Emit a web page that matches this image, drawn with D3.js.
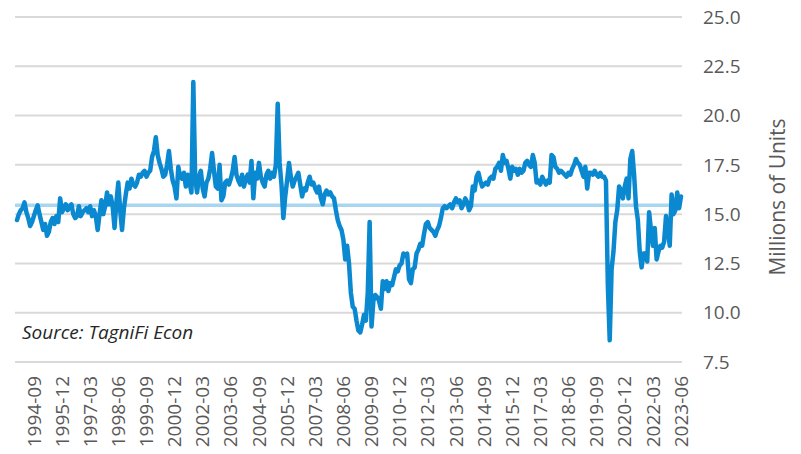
<!DOCTYPE html>
<html>
  <head>
    <meta charset="utf-8">
    <script src="https://cdn.jsdelivr.net/npm/d3@7"></script>
    <style type="text/css">
      body { margin: 0; background: #ffffff; }
      text { font-family: "Open Sans", "Liberation Sans", sans-serif; }
    </style>
  </head>
  <body>
    <script type="text/javascript">
      // First month of the series, monthly steps after that
      var firstMonth = "1993-12";

      // Light vehicle sales, millions of units
      var sales = [
        14.7,
        15.0, 15.2, 15.3, 15.6, 15.1, 14.8, 14.4, 14.6, 14.9, 15.2, 15.45, 15.0, // 1994
        14.6, 14.2, 14.5, 13.9, 14.1, 14.6, 14.8, 14.5, 14.9, 14.6, 15.8, 15.1,  // 1995
        15.3, 15.5, 15.2, 15.4, 15.5, 15.0, 14.8, 14.9, 15.4, 14.9, 15.1, 15.2,  // 1996
        15.3, 15.1, 15.4, 14.9, 15.2, 14.9, 14.2, 15.0, 15.7, 15.0, 15.4, 16.1,  // 1997
        15.5, 15.9, 15.4, 14.3, 15.6, 16.6, 15.2, 14.2, 15.3, 16.0, 16.6, 16.3,  // 1998
        16.8, 16.5, 16.4, 16.6, 17.0, 16.9, 17.1, 17.2, 16.9, 17.1, 17.2, 17.9,  // 1999
        18.2, 18.9, 18.0, 17.6, 17.3, 16.9, 17.0, 17.5, 18.2, 17.3, 16.7, 16.4,  // 2000
        15.8, 17.4, 16.9, 16.8, 17.1, 16.4, 17.0, 16.6, 16.1, 21.7, 16.8, 16.1,  // 2001
        16.9, 17.2, 16.3, 15.9, 16.6, 16.8, 17.3, 18.1, 17.2, 16.4, 16.3, 17.5,  // 2002
        15.7, 15.9, 16.6, 16.7, 16.5, 16.8, 17.2, 17.9, 17.0, 16.7, 16.5, 17.0,  // 2003
        16.4, 16.8, 17.0, 16.6, 17.7, 15.8, 17.1, 16.8, 17.6, 16.9, 16.6, 16.4,  // 2004
        17.0, 17.2, 16.8, 17.1, 16.9, 17.5, 20.6, 17.6, 16.5, 14.8, 15.9, 16.7,  // 2005
        17.6, 16.9, 16.4, 16.7, 16.9, 17.1, 16.5, 15.9, 16.3, 16.2, 16.6, 16.9,  // 2006
        16.5, 16.6, 16.3, 16.1, 16.4, 15.8, 15.5, 16.0, 16.2, 16.0, 16.1, 15.9,  // 2007
        15.8, 15.2, 14.7, 14.4, 14.2, 13.7, 12.7, 13.4, 12.5, 11.0, 10.3, 10.2,  // 2008
        9.6, 9.1, 9.0, 9.4, 9.9, 9.6, 11.0, 14.6, 9.3, 10.6, 10.9, 10.8,        // 2009
        10.6, 10.2, 11.6, 11.2, 11.6, 11.1, 11.5, 11.4, 11.8, 12.2, 12.1, 12.4,  // 2010
        12.5, 13.0, 12.9, 13.0, 11.7, 11.5, 12.2, 12.3, 13.0, 13.2, 13.5, 13.4,  // 2011
        14.0, 14.5, 14.6, 14.3, 14.2, 14.1, 13.9, 14.2, 14.4, 14.8, 15.3, 15.4,  // 2012
        15.3, 15.4, 15.5, 15.3, 15.6, 15.8, 15.6, 15.7, 15.3, 15.5, 15.8, 15.6,  // 2013
        15.2, 15.4, 16.4, 16.2, 16.9, 17.1, 16.7, 16.4, 16.5, 16.6, 16.5, 16.8,  // 2014
        16.9, 16.8, 17.3, 17.4, 17.6, 17.2, 18.0, 17.6, 17.7, 17.3, 16.8, 17.4,  // 2015
        17.2, 17.3, 17.0, 17.3, 17.1, 17.2, 17.6, 17.7, 17.5, 17.4, 18.0, 17.6,  // 2016
        16.6, 16.7, 16.5, 16.9, 16.7, 16.5, 16.7, 16.6, 18.0, 17.9, 17.4, 17.3,  // 2017
        17.1, 17.2, 17.1, 17.0, 16.9, 17.1, 17.0, 17.3, 17.5, 17.8, 17.6, 17.5,  // 2018
        17.2, 16.9, 17.4, 16.3, 17.1, 17.1, 17.0, 17.2, 17.0, 16.9, 17.1, 16.9,  // 2019
        16.9, 16.7, 11.4, 8.6, 12.2, 13.1, 14.6, 15.2, 16.4, 16.2, 15.8, 16.4,   // 2020
        16.8, 15.8, 17.8, 18.2, 17.0, 15.4, 14.7, 13.1, 12.3, 13.0, 13.0, 12.6,  // 2021
        15.1, 14.2, 13.4, 14.3, 12.7, 13.1, 13.4, 13.3, 13.6, 14.9, 14.2, 13.4,  // 2022
        16.0, 15.0, 15.2, 16.1, 15.3, 15.9                                       // 2023
      ];

      // Long run average, drawn as a flat band
      var averageSales = 15.45;

      // Category labels along the bottom (every 15 months)
      var tickLabels = ["1994-09", "1995-12", "1997-03", "1998-06", "1999-09",
        "2000-12", "2002-03", "2003-06", "2004-09", "2005-12", "2007-03",
        "2008-06", "2009-09", "2010-12", "2012-03", "2013-06", "2014-09",
        "2015-12", "2017-03", "2018-06", "2019-09", "2020-12", "2022-03",
        "2023-06"];

      var yTicks = [7.5, 10.0, 12.5, 15.0, 17.5, 20.0, 22.5, 25.0];

      // Size of the svg
      var width = 801;
      var height = 454;
      var plotLeft = 15;
      var plotRight = 682;

      var svg = d3.select("body").append("svg")
        .attr("width", width).attr("height", height);

      // Turns a "yyyy-mm" string into a month count
      function monthNumber(s) {
        var parts = s.split("-");
        return (+parts[0]) * 12 + (+parts[1]) - 1;
      }
      var start = monthNumber(firstMonth);
      var points = sales.map(function(v, i) { return {m: start + i, v: v}; });

      var xScale = d3.scaleLinear()
        .domain([start, start + sales.length - 1])
        .range([17, 681]);
      var yScale = d3.scaleLinear().domain([7.5, 25]).range([362, 17]);

      // Horizontal gridlines
      svg.append("g").selectAll("line").data(yTicks).enter().append("line")
        .attr("x1", plotLeft).attr("x2", plotRight)
        .attr("y1", function(d) { return yScale(d); })
        .attr("y2", function(d) { return yScale(d); })
        .attr("stroke", "#d9d9d9").attr("stroke-width", 2);

      // Right hand value labels
      svg.append("g").selectAll("text").data(yTicks).enter().append("text")
        .attr("x", 703)
        .attr("y", function(d) { return yScale(d); })
        .attr("dy", "0.35em")
        .attr("font-size", "19px").attr("fill", "#595959")
        .text(function(d) { return d3.format(".1f")(d); });

      // Average band
      svg.append("line")
        .attr("x1", plotLeft).attr("x2", plotRight - 2)
        .attr("y1", yScale(averageSales)).attr("y2", yScale(averageSales))
        .attr("stroke", "#a8d6f0").attr("stroke-width", 3.5);

      // The sales line
      var line = d3.line()
        .x(function(d) { return xScale(d.m); })
        .y(function(d) { return yScale(d.v); });
      svg.append("path").datum(points)
        .attr("d", line)
        .attr("fill", "none")
        .attr("stroke", "#0a88d0")
        .attr("stroke-width", 4.5)
        .attr("stroke-linejoin", "round")
        .attr("stroke-linecap", "round");

      // Rotated month labels under the axis
      svg.append("g").selectAll("text").data(tickLabels).enter().append("text")
        .attr("transform", function(d) {
          return "translate(" + xScale(monthNumber(d)) + ",376) rotate(-90)";
        })
        .attr("text-anchor", "end")
        .attr("dy", "0.35em")
        .attr("font-size", "19px").attr("fill", "#595959")
        .text(function(d) { return d; });

      // Axis title on the right
      svg.append("text")
        .attr("transform", "translate(778,197) rotate(-90)")
        .attr("text-anchor", "middle")
        .attr("dy", "0.35em")
        .attr("font-size", "21px").attr("fill", "#595959")
        .text("Millions of Units");

      // Source note
      svg.append("text")
        .attr("x", 22).attr("y", 339)
        .attr("font-size", "19px").attr("font-style", "italic")
        .attr("fill", "#262626")
        .text("Source: TagniFi Econ");
    </script>
  </body>
</html>
